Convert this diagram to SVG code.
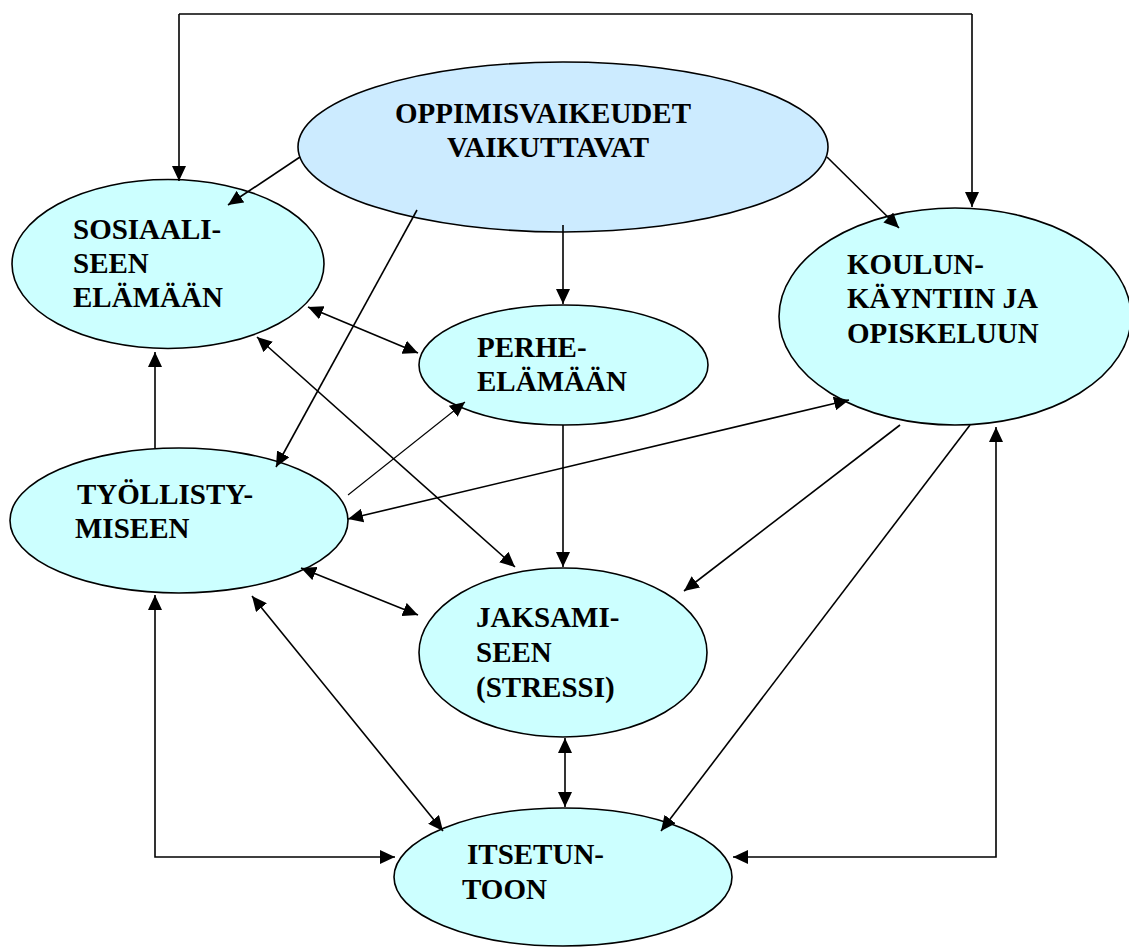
<svg xmlns="http://www.w3.org/2000/svg" width="1129" height="947" viewBox="0 0 1129 947">
  <style>
    .node { fill: #CCFFFF; stroke: #000; stroke-width: 1.6; }
    .root { fill: #CCEBFF; stroke: #000; stroke-width: 1.6; }
    .lbl { font-family: 'Liberation Serif', 'Times New Roman', serif; font-weight: bold; font-size: 29px; fill: #000; }
    .c { fill: none; stroke: #000; stroke-width: 1.6; }
    .thin { stroke-width: 1.1; }
    .end { marker-end: url(#ah); }
    .both { marker-start: url(#ah); marker-end: url(#ah); }
  </style>
  <defs>
    <marker id="ah" markerUnits="userSpaceOnUse" markerWidth="15" markerHeight="14" refX="15" refY="7" orient="auto-start-reverse" viewBox="0 0 15 14">
      <path d="M0,0 L15,7 L0,14 z" fill="#000"/>
    </marker>
  </defs>
  <rect width="1129" height="947" fill="#fff"/>

  <g id="oppimisvaikeudet">
    <ellipse class="root" cx="563" cy="147" rx="265" ry="85"/>
    <text class="lbl" x="543" y="123" text-anchor="middle">OPPIMISVAIKEUDET</text>
    <text class="lbl" x="548" y="157" text-anchor="middle">VAIKUTTAVAT</text>
  </g>

  <g id="sosiaaliseen">
    <ellipse class="node" cx="168" cy="264" rx="156" ry="84.5"/>
    <text class="lbl" x="73" y="239">SOSIAALI-</text>
    <text class="lbl" x="73" y="273">SEEN</text>
    <text class="lbl" x="73" y="307">ELÄMÄÄN</text>
  </g>

  <g id="perhe">
    <ellipse class="node" cx="563.5" cy="365" rx="144.5" ry="60"/>
    <text class="lbl" x="477" y="357">PERHE-</text>
    <text class="lbl" x="477" y="391">ELÄMÄÄN</text>
  </g>

  <g id="koulunkaynti">
    <ellipse class="node" cx="955" cy="316.5" rx="176" ry="108.5"/>
    <text class="lbl" x="847" y="274">KOULUN-</text>
    <text class="lbl" x="847" y="308">KÄYNTIIN JA</text>
    <text class="lbl" x="847" y="343">OPISKELUUN</text>
  </g>

  <g id="tyollistyminen">
    <ellipse class="node" cx="179" cy="520.5" rx="169" ry="72.5"/>
    <text class="lbl" x="77" y="504">TYÖLLISTY-</text>
    <text class="lbl" x="75" y="538">MISEEN</text>
  </g>

  <g id="jaksaminen">
    <ellipse class="node" cx="563" cy="652.5" rx="144" ry="84.5"/>
    <text class="lbl" x="476" y="627">JAKSAMI-</text>
    <text class="lbl" x="476" y="662">SEEN</text>
    <text class="lbl" x="476" y="697">(STRESSI)</text>
  </g>

  <g id="itsetunto">
    <ellipse class="node" cx="563" cy="877" rx="169" ry="69"/>
    <text class="lbl" x="467" y="864">ITSETUN-</text>
    <text class="lbl" x="462" y="899">TOON</text>
  </g>

  <g id="connectors">
    <!-- frame across the top, feeding both upper side ellipses -->
    <path class="c" d="M179,14 H972"/>
    <path class="c end" d="M179,14 V181"/>
    <path class="c end" d="M972,14 V207"/>

    <!-- from the central cause -->
    <path class="c end" d="M300,157 L228,205"/>
    <path class="c end" d="M417,210 L276,467"/>
    <path class="c end" d="M563,225 V304"/>
    <path class="c end" d="M827,157 L899,228"/>

    <!-- social life -->
    <path class="c both" d="M308,307 L418,353"/>
    <path class="c both" d="M257,337 L515,567"/>
    <path class="c end" d="M155,448 V352"/>

    <!-- employment -->
    <path class="c thin end" d="M348,495 L465,402"/>
    <path class="c both" d="M849,400 L348,519"/>
    <path class="c both" d="M301,568 L418,615"/>
    <path class="c both" d="M252,596 L443,831"/>
    <path class="c both" d="M155,595 V857 H395"/>

    <!-- family, school, coping, self-esteem -->
    <path class="c end" d="M563,425 V567"/>
    <path class="c end" d="M900,425 L684,591"/>
    <path class="c end" d="M970,425 L661,831"/>
    <path class="c both" d="M996,427 V857 H733"/>
    <path class="c both" d="M565,738 V807"/>
  </g>
</svg>
